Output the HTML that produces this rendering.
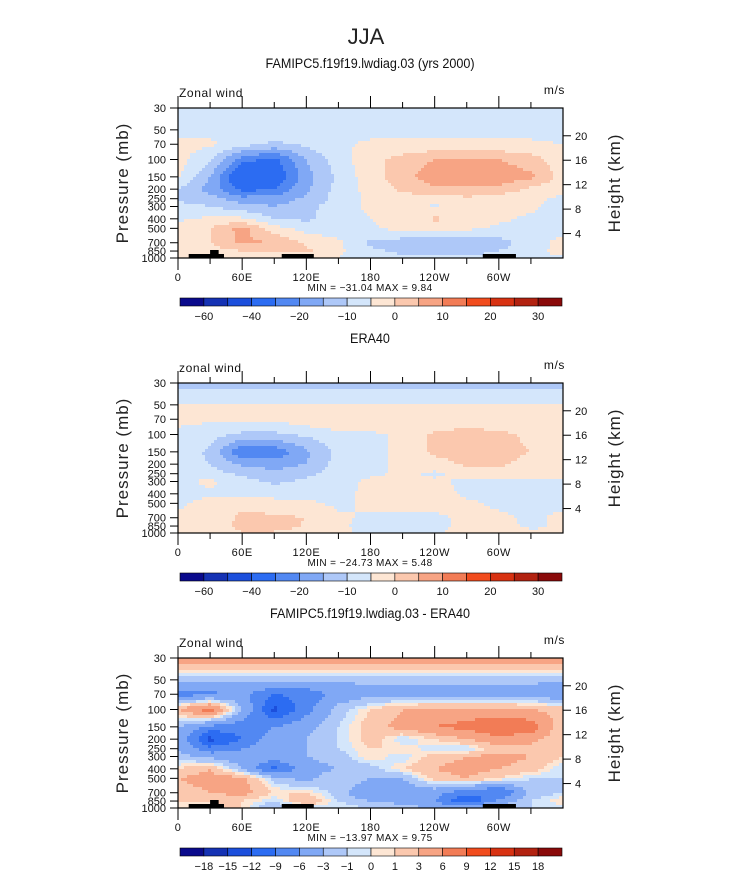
<!DOCTYPE html>
<html><head><meta charset="utf-8"><style>
body{margin:0;background:#fff;}
svg{display:block;font-family:"Liberation Sans",sans-serif;}
</style></head><body>
<svg id="fig" width="733" height="888" viewBox="0 0 733 888" xmlns="http://www.w3.org/2000/svg">
<text x="366" y="44" font-size="22" text-anchor="middle" fill="#222" font-weight="300">JJA</text>
</svg>
<script>
// ---- data ----
const lons=[0,30,60,90,120,150,180,210,240,270,300,330,360];
const levels=[30,50,70,100,150,200,250,300,400,500,700,850,1000];
const model=[
[-2,-2,-2,-2,-2,-2,-2,-2,-2,-2,-2,-2,-2],
[-2,-2,-2,-2,-2,-2,-2,-2,-2,-2,-2,-2,-2],
[1,1,-3,-6,-4,-1,1,1,1,1,1,1,0],
[2,-4,-18,-22,-10,-2,3,7,10,11,10,7,2],
[1,-10,-28,-25,-12,-4,3,8,13,13,14,11,3],
[-5,-12,-22,-20,-11,-3,2,6,9,9,8,4,1],
[-6,-8,-13,-13,-9,-3,1,3,2,4,3,1,-1],
[-3,-5,-8,-10,-7,-2,1,3,-1,3,2,1,-2],
[-1,1,1,-5,-6,-2,0,2,6,3,1,-1,-2],
[2,5,12,2,-2,-3,-1,2,2,1,-1,-2,-2],
[2,5,11,10,4,1,-6,-8,-8,-8,-7,-3,2],
[1,3,5,7,6,1,-4,-6,-6,-7,-5,-2,2],
[1,2,2,1,1,0,-2,-4,-4,-4,-3,-1,-1]];
const era=[
[-7.5,-7.5,-7.5,-7.5,-7.5,-7.5,-7.5,-7.5,-7.5,-7.5,-7.5,-7.5,-7.5],
[0.5,0.5,0.5,0.5,0.5,0.5,0.5,0.5,0.5,0.5,0.5,0.5,0.5],
[1,1,1,1,3,5.5,5.5,1,1,2,2,1,1],
[-1,-3,-6,-6,-4,-2,-1,1,6,7,6,4,1],
[-2,-6,-20,-19,-11,-3,-1,1,6,7,7,5,2],
[-3,-5,-11,-12,-10,-3,-1,1,3,6,6,3,1],
[-1,-3,-6,-9,-6,-3,-1,1,-1,2,2,1,1],
[-1,1,-3,-6,-4,-2,1,2,1,-1,-1,-1,-1],
[-2,-1,-1,-2,-2,-1,1,2,2,-1,-1,-2,-2],
[-1,2,4,2,1,-1,1,2,2,1,-1,-1,-1],
[1,2,6,6,5,1,-1,-1,-1,1,1,-1,1],
[2,3,6,9,4,1,-2,-2,-1,1,2,-1,1],
[5,2,5,4,1,1,-1,-2,-1,2,5,1,1]];
const diff=[
[5,5,5,5,5,5,5,5,5,5,5,5,5],
[-2.5,-2.5,-2.5,-2.5,-2.5,-2.5,-2.5,-2.5,-2.5,-2.5,-2.5,-2.5,-2.5],
[-7,-7,-5,-9,-8,-5,-4,-4,-4,-4,-4,-4,-6],
[3,8,-3,-13,-7,-2,1,3,4,4,4,3,2],
[-3,-7,-8,-6,-4,-1,2,4,6,7,9,8,1],
[-4,-13,-9,-4,-3,-1,2,-1,1,3,5,4,1],
[-3,-8,-6,-4,-3,-1,1,1,-1,-1,2,2,1],
[-2,-4,-5,-4,-3,-2,1,-1,2,3,4,3,1],
[1,3,-3,-10,-4,-3,-2,1,3,4,3,2,-1],
[3,4,4,-2,-4,-1,-3,-3,2,3,1,-1,-1],
[2,3,4,1,1,-2,-6,-5,-5,-8,-10,-2,-1],
[1,1,1,-1,3,-1,-3,-4,-6,-12,-5,-1,1],
[0,1,1,-3,-1,0,-1,-2,-3,-3,-2,-1,-1]];
const windBins=[-50,-40,-30,-20,-15,-10,-5,0,5,10,15,20,25,30,40];
const windLabels=["-60","-40","-20","-10","0","10","20","30"];
const diffBins=[-18,-15,-12,-9,-6,-3,-1,0,1,3,6,9,12,15,18];
const diffLabels=["-18","-15","-12","-9","-6","-3","-1","0","1","3","6","9","12","15","18"];
const xTickLabels=["0","60E","120E","180","120W","60W"];
const presTicks=[30,50,70,100,150,200,250,300,400,500,700,850,1000];
const heightTicks=[4,8,12,16,20];
const colors=["#0a0a8c","#1532b4","#1c4fdc","#2c6cf2","#5288f2","#80a8f5","#aec8f8","#d4e6fb","#fde6d4","#fbc8ae","#f7a484","#f27c56","#f14c1e","#d83212","#b22210","#8a0a0a"];
const topo=[[10,43,1],[30,38,2],[97,127,1],[285,316,1]];
// ---- drawing ----
const NS="http://www.w3.org/2000/svg";
const svg=document.getElementById('fig');
function mk(tag,attrs,parent){const e=document.createElementNS(NS,tag);for(const k in attrs)e.setAttribute(k,attrs[k]);(parent||svg).appendChild(e);return e;}
const X0=178,X1=563,PH=150;
function xOf(lon){return X0+(X1-X0)*lon/360;}
function yOf(p,top){return top+PH*Math.log(p/30)/Math.log(1000/30);}
function binOf(v,lv){let i=0;while(i<lv.length&&v>=lv[i])i++;return i;}
function sample(grid,lon,yy,top){
  const fx=Math.max(0,lon)/30;let i=Math.min(Math.floor(fx),11);const tx=fx-i;
  const ys=levels.map(p=>yOf(p,top));
  let j=0;while(j<11&&yy>ys[j+1])j++;
  const ty=Math.max(0,Math.min(1,(yy-ys[j])/(ys[j+1]-ys[j])));
  const a=grid[j][i]*(1-tx)+grid[j][i+1]*tx;
  const b=grid[j+1][i]*(1-tx)+grid[j+1][i+1]*tx;
  return a*(1-ty)+b*ty;
}
function panel(opts){
  const top=opts.top;
  const g=mk('g',{});
  
  
  const t=mk('text',{x:370,y:top-40,'font-size':14,'text-anchor':'middle',fill:'#111',transform:`translate(370 0) scale(0.9 1) translate(-370 0)`},g);
  t.textContent=opts.title;
  
  
  const t2=mk('text',{x:179,y:top-11,'font-size':12,fill:'#111','letter-spacing':'0.6'},g);t2.textContent=opts.left;
  
  
  const t3=mk('text',{x:565,y:top-14,'font-size':12,fill:'#111','text-anchor':'end','letter-spacing':'0.6'},g);t3.textContent='m/s';
  
  
  const cg=mk('g',{'shape-rendering':'crispEdges'},g);
  
  
  const S=3;
  for(let yy=top;yy<top+PH;yy+=S){
    let runStart=X0,runC=null;
    for(let xx=X0;xx<X1+S;xx+=S){
      let c=null;
      if(xx<X1){const lon=(Math.min(xx+S/2,X1)-X0)/(X1-X0)*360;const v=sample(opts.grid,Math.min(lon,359.9),Math.min(yy+S/2,top+PH),top);c=colors[binOf(v,opts.lv)];}
      if(c!==runC){
        if(runC!==null){const r=mk('rect',{x:runStart,y:yy,width:Math.min(xx,X1)-runStart,height:Math.min(S,top+PH-yy),fill:runC},cg);
          
          }
        runStart=xx;runC=c;
      }
    }
  }
  if(opts.topo){topo.forEach(tp=>{const h=tp[2]===2?8:4;const r=mk('rect',{x:xOf(tp[0]),y:top+PH-h,width:xOf(tp[1])-xOf(tp[0]),height:h,fill:'#000'},g);
    
    });}
  const fr=mk('rect',{x:X0,y:top,width:X1-X0,height:PH,fill:'none',stroke:'#000','stroke-width':1.2},g);
  
  
  for(let k=0;k<12;k++){const x=xOf(k*30);const L=k%2===0?12:6;
    mk('line',{x1:x,x2:x,y1:top,y2:top-L,stroke:'#000'},g);
    mk('line',{x1:x,x2:x,y1:top+PH,y2:top+PH+L,stroke:'#000'},g);
    if(k%2===0){const tx=mk('text',{x:x,y:top+PH+23,'font-size':11,'text-anchor':'middle',fill:'#111','letter-spacing':'0.5'},g);tx.textContent=xTickLabels[k/2];
      
      }}
  const mm=mk('text',{x:370,y:top+PH+33,'font-size':10,'text-anchor':'middle',fill:'#111','xml:space':'preserve','letter-spacing':'0.4'},g);mm.textContent=opts.minmax;
  
  
  presTicks.forEach(p=>{const y=yOf(p,top);mk('line',{x1:X0,x2:X0-8,y1:y,y2:y,stroke:'#000'},g);
    const tx=mk('text',{x:X0-12,y:y+4,'font-size':11,'text-anchor':'end',fill:'#111'},g);tx.textContent=p;
    
    });
  heightTicks.forEach(h=>{const p=1000*Math.exp(-h/7);const y=yOf(p,top);mk('line',{x1:X1,x2:X1+8,y1:y,y2:y,stroke:'#000'},g);
    const tx=mk('text',{x:X1+12,y:y+4,'font-size':11,fill:'#111'},g);tx.textContent=h;
    
    });
  const yl=mk('text',{x:0,y:0,'font-size':17,'text-anchor':'middle',fill:'#222','letter-spacing':'1',transform:`translate(128 ${top+PH/2}) rotate(-90)`},g);yl.textContent='Pressure (mb)';
  
  
  const yr=mk('text',{x:0,y:0,'font-size':17,'text-anchor':'middle',fill:'#222','letter-spacing':'1',transform:`translate(620 ${top+PH/2}) rotate(-90)`},g);yr.textContent='Height (km)';
  
  
  const cb=mk('g',{},g);
  
  
  const cy=top+190,bw=(562-180)/16;
  colors.forEach((c,i)=>{const r=mk('rect',{x:180+i*bw,y:cy,width:bw,height:8,fill:c,stroke:'#000','stroke-width':0.6},cb);
    
    });
  const labs=opts.labels;const step=labs.length<10?2:1;
  labs.forEach((l,i)=>{const b=step===2?1+2*i:1+i;const tx=mk('text',{x:180+b*bw,y:cy+22,'font-size':11,'text-anchor':'middle',fill:'#111'},cb);tx.textContent=l.replace('-','\u2212');
    
    });
}
panel({name:'model-panel',top:108,title:'FAMIPC5.f19f19.lwdiag.03 (yrs 2000)',left:'Zonal wind',grid:model,lv:windBins,labels:windLabels,minmax:'MIN = \u221231.04  MAX =    9.84',topo:true});
panel({name:'era40-panel',top:383,title:'ERA40',left:'zonal wind',grid:era,lv:windBins,labels:windLabels,minmax:'MIN = \u221224.73  MAX =    5.48',topo:false});
panel({name:'difference-panel',top:658,title:'FAMIPC5.f19f19.lwdiag.03 - ERA40',left:'Zonal wind',grid:diff,lv:diffBins,labels:diffLabels,minmax:'MIN = \u221213.97  MAX =    9.75',topo:true});
</script>
</body></html>
